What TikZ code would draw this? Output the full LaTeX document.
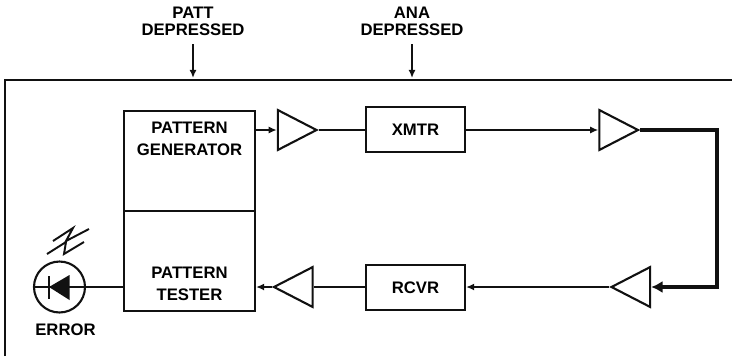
\documentclass[tikz,border=0pt]{standalone}
\usepackage{fontspec}
\setmainfont{Liberation Sans}
\usetikzlibrary{positioning,arrows.meta,shapes.geometric}
\definecolor{wireblack}{HTML}{111111}

\begin{document}
\begin{tikzpicture}[x=.02cm,y=-.02cm,
 wire/.style={line width=1.2pt,wireblack},
 flow/.style={-{Latex[length=4.6pt,width=4pt]},line width=1.2pt,wireblack},
 fiber/.style={-{Latex[length=6.5pt,width=7pt]},line width=2.8pt,wireblack},
 block/.style={draw=wireblack,line width=1.2pt,font=\fontsize{9.5}{12.4}\selectfont\bfseries,align=center,inner sep=0pt},
 amp/.style={draw=wireblack,line width=1.2pt,isosceles triangle,isosceles triangle apex angle=55,isosceles triangle stretches,minimum width=22.7pt,minimum height=22pt,inner sep=0pt},
 lab/.style={font=\fontsize{9.5}{9.6}\selectfont\bfseries,align=center,inner sep=0pt},
 boxlab/.style={font=\fontsize{9.5}{12.4}\selectfont\bfseries,align=center,inner sep=0pt}]
\useasboundingbox (0,0) rectangle (732,356);
% enclosure, open to the bottom and right
\draw[wire] (5,356)--(5,80)--(732,80);
% top row
\node[block,minimum width=2.62cm,minimum height=2cm] (gen) at (189.5,161) {};
\node[boxlab] (gentxt) at (189.5,139) {PATTERN\\GENERATOR};
\node[amp] (amp1) at (290,130) {};
\node[block,minimum width=1.98cm,minimum height=.9cm] (xmtr) at (415.5,129.5) {XMTR};
\node[amp] (amp2) at (611.5,130) {};
% bottom row
\node[block,minimum width=2.62cm,minimum height=2cm] (tester) at (189.5,261) {};
\node[boxlab] (testtxt) at (189.5,284) {PATTERN\\TESTER};
\node[amp,shape border rotate=180] (amp3) at (638,287) {};
\node[block,minimum width=1.98cm,minimum height=.9cm] (rcvr) at (415.5,287.5) {RCVR};
\node[amp,shape border rotate=180] (amp4) at (300.5,287) {};
% top labels
\node[lab] (patt) at (193,21) {PATT\\DEPRESSED};
\node[lab] (ana) at (412,21) {ANA\\DEPRESSED};
\coordinate (pattend) at (193,78);
\coordinate (anaend) at (412,78);
\draw[flow] (193,44)--(pattend);
\draw[flow] (412,44)--(anaend);
% signal path
\draw[flow] (gen.east|-amp1.west)--(amp1.west);
\draw[wire] (amp1.apex)--(xmtr.west|-amp1.apex);
\draw[flow] (xmtr.east|-amp2.west)--(amp2.west);
\coordinate (bend) at (717,287);
\draw[fiber] (amp2.apex)-|(bend)--(amp3.east);
\draw[flow] (amp3.apex)--(rcvr.east|-amp3.apex);
\draw[wire] (rcvr.west|-amp4.east)--(amp4.east);
\draw[flow] (amp4.apex)--(tester.east|-amp4.apex);
% error lamp
\node[circle,draw=wireblack,line width=1.2pt,minimum size=1.02cm,inner sep=0pt] (lamp) at (59.5,287) {};
\node[lab] (error) at (65.5,330) {ERROR};
\draw[wire] (lamp.west)--(tester.west|-lamp.east);
\fill[wireblack] (49,287)--(69.5,275)--(69.5,300)--cycle;
\draw[wire] (49,276)--(49,299);
\draw[line width=1.1pt,wireblack] (53,241)--(73,228)--(66,241)--(89,229);
\draw[line width=1.1pt,wireblack] (47,254)--(66,242)--(64,254)--(84,242);
\end{tikzpicture}
\end{document}
